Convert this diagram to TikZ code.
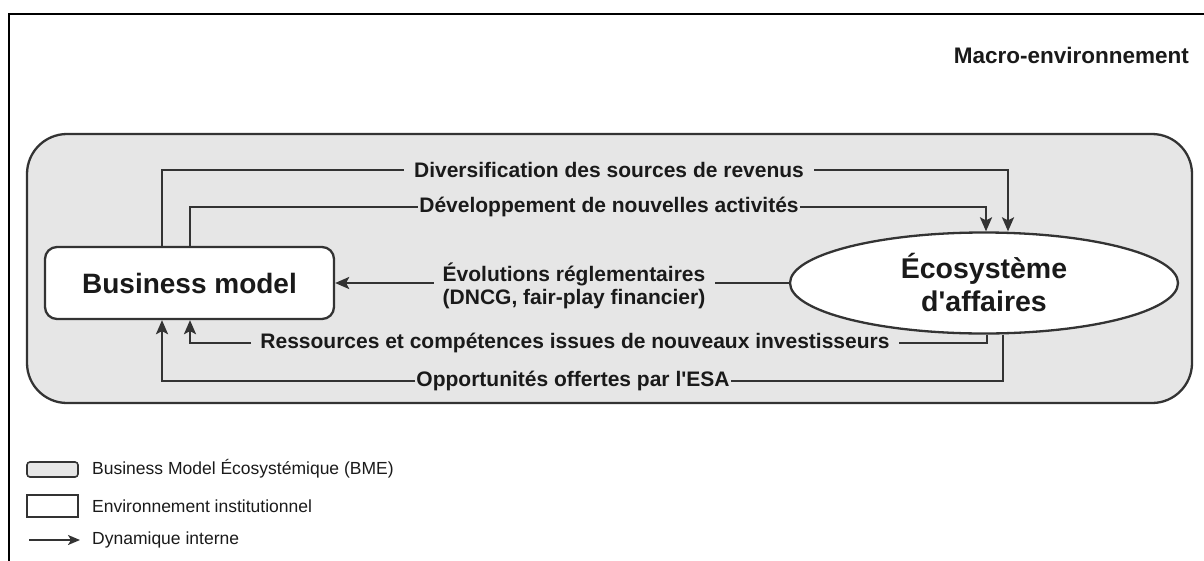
\documentclass[tikz,border=0pt]{standalone}
\usepackage{fontspec}
\setmainfont{Liberation Sans}
\usetikzlibrary{shapes.geometric,arrows.meta,calc}
\definecolor{linegray}{HTML}{333333}
\definecolor{bmefill}{HTML}{E6E6E6}
\definecolor{txt}{HTML}{1A1A1A}
\begin{document}
\begin{tikzpicture}[x=1pt,y=-1pt,
  conn/.style={draw=linegray,line width=2.3pt},
  arr/.style={conn,-{Stealth[length=14pt,width=12pt,inset=3pt]}},
  lab/.style={font=\fontsize{21}{23}\selectfont\bfseries,text=txt,inner ysep=2pt,align=center},
  bmbox/.style={draw=linegray,line width=2.3pt,fill=white,rounded corners=12pt,minimum width=289pt,minimum height=72pt,inner sep=0pt,font=\fontsize{28}{32}\selectfont\bfseries,text=txt},
  ecobox/.style={ellipse,draw=linegray,line width=2.3pt,fill=white,minimum width=388pt,minimum height=101pt,inner sep=0pt,align=center,font=\fontsize{28.5}{33}\selectfont\bfseries,text=txt},
  legtxt/.style={anchor=west,font=\fontsize{17.5}{20}\selectfont,text=txt,inner sep=0pt}]
\useasboundingbox (0,0) rectangle (1204,560);
% outer frame (macro-environment)
\draw[line width=2.3pt,black] (9,562) -- (9,14) -- (1206,14);
\node[anchor=east,font=\fontsize{22.5}{26}\selectfont\bfseries,text=txt,inner sep=0pt] (macro) at (1189,55) {Macro-environnement};
% BME area
\draw[conn,fill=bmefill,rounded corners=40pt] (27,134) rectangle (1192,403);
% main nodes
\node[bmbox] (bm) at (189.5,283) {Business model};
\node[ecobox] (eco) at (984,283) {Écosystème\\d\textquotesingle affaires};
% x positions of vertical connector parts
\coordinate (xa) at (162,0);
\coordinate (xb) at (190,0);
\coordinate (xc) at (986,0);
\coordinate (xd) at (1008,0);
\coordinate (xe) at (987,0);
\coordinate (xf) at (1003,0);
% labels
\node[lab,inner xsep=10pt] (l1) at (609,170) {Diversification des sources de revenus};
\node[lab,inner xsep=1pt] (l2) at (609,207) {Développement de nouvelles activités};
\node[lab,inner xsep=9pt] (l3) at (574,286) {Évolutions réglementaires\\(DNCG, fair-play financier)};
\node[lab,inner xsep=9pt] (l4) at (575,343) {Ressources et compétences issues de nouveaux investisseurs};
\node[lab,inner xsep=1pt] (l5) at (573,381) {Opportunités offertes par l\textquotesingle ESA};
% connectors
\draw[conn] (bm.north -| xa) |- (l1.west);
\draw[arr] (l1.east) -| (eco.north -| xd);
\draw[conn] (bm.north -| xb) |- (l2.west);
\draw[arr] (l2.east) -| (eco.north -| xc);
\draw[conn] (eco.west) -- (l3.east |- eco.west);
\draw[arr] (l3.west |- bm.east) -- (bm.east);
\draw[conn] (eco.south -| xe) |- (l4.east);
\draw[arr] (l4.west) -| (bm.south -| xb);
\draw[conn] (eco.south -| xf) |- (l5.east);
\draw[arr] (l5.west) -| (bm.south -| xa);
% legend
\draw[conn,line width=1.6pt,fill=bmefill,rounded corners=3pt] (27,462) rectangle (78,477);
\node[legtxt] (lg1) at (92,469) {Business Model Écosystémique (BME)};
\draw[conn,line width=1.6pt,fill=white] (27,495) rectangle (78,517);
\node[legtxt] (lg2) at (92,506) {Environnement institutionnel};
\coordinate (la) at (29,540);
\coordinate (lb) at (80,540);
\draw[conn,line width=1.8pt,-{Stealth[length=12pt,width=10pt,inset=3pt]}] (la) -- (lb);
\node[legtxt] (lg3) at (92,540) {Dynamique interne};
\end{tikzpicture}
\end{document}
